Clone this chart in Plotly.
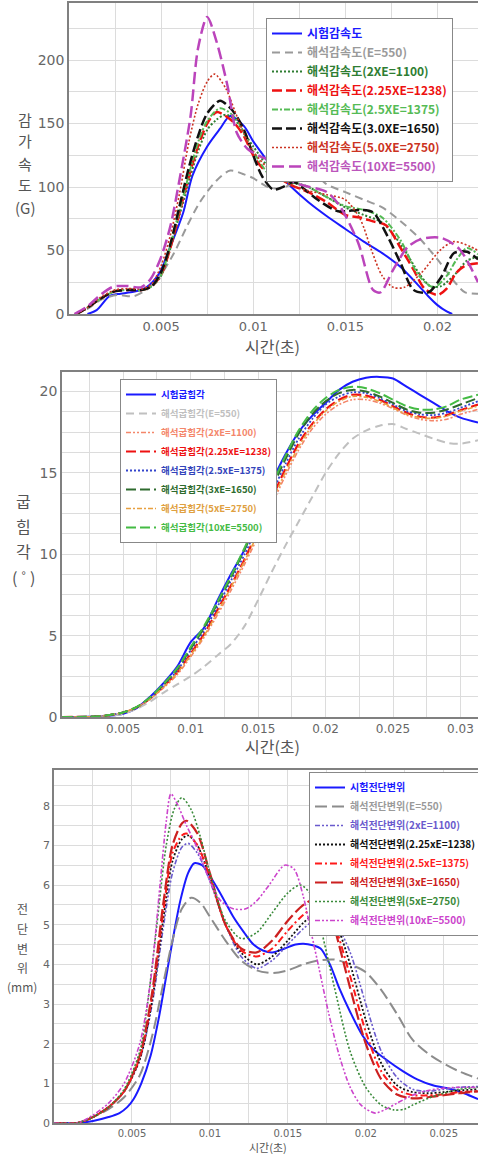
import plotly.graph_objects as go

# ---------------- Panel 1 : 감가속도 (G) ----------------
P1_NAMES = ["시험감속도", "해석감속도(E=550)", "해석감속도(2XE=1100)", "해석감속도(2.25XE=1238)",
            "해석감속도(2.5XE=1375)", "해석감속도(3.0XE=1650)", "해석감속도(5.0XE=2750)",
            "해석감속도(10XE=5500)"]
P1_T = [
    [1.0, 1.5, 2.2, 2.8, 3.5, 4.2, 4.9, 5.5, 6.2, 6.7, 7.5, 8.2, 8.75, 9.5, 10.0, 10.5, 11.0, 12.0, 13.0, 14.0, 15.0, 16.0, 17.0, 18.0, 19.0, 19.5, 20.0, 20.5, 20.8],
    [0.3, 1.0, 1.7, 2.6, 3.5, 4.2, 4.9, 5.7, 6.4, 7.1, 8.0, 8.75, 9.5, 10.0, 10.8, 11.5, 12.3, 12.9, 13.5, 14.0, 15.0, 16.0, 17.0, 18.0, 19.0, 20.0, 21.0, 21.5, 22.2],
    [0.4, 1.0, 1.7, 2.5, 3.2, 4.0, 4.5, 5.0, 6.0, 7.0, 7.5, 8.0, 8.5, 9.0, 10.0, 11.0, 12.0, 13.0, 14.0, 15.0, 16.0, 17.0, 18.0, 19.0, 19.6, 20.2, 21.0, 21.6, 22.2],
    [0.4, 1.0, 1.7, 2.5, 3.2, 4.0, 4.5, 5.0, 5.5, 6.0, 6.5, 7.0, 7.5, 8.0, 8.5, 9.0, 9.5, 10.0, 10.5, 11.3, 12.0, 13.0, 14.0, 15.0, 15.8, 16.5, 17.2, 18.0, 18.7, 19.3, 20.0, 20.5, 21.0, 21.5, 22.2],
    [0.4, 1.0, 1.7, 2.5, 3.2, 4.0, 4.5, 5.0, 6.0, 7.0, 7.5, 8.2, 9.0, 10.0, 11.0, 12.0, 13.0, 14.0, 15.0, 16.0, 17.0, 18.0, 19.0, 19.8, 20.5, 21.0, 21.6, 22.2],
    [0.4, 1.0, 1.7, 2.5, 3.2, 4.0, 4.5, 5.0, 5.5, 6.0, 6.5, 7.0, 7.5, 8.2, 8.7, 9.0, 9.5, 10.0, 10.5, 11.1, 11.6, 12.2, 12.8, 13.5, 14.6, 15.8, 16.5, 17.3, 18.0, 18.7, 19.5, 20.2, 20.9, 21.6, 22.2],
    [0.4, 1.0, 1.7, 2.5, 3.2, 4.0, 4.5, 5.0, 5.5, 6.0, 6.5, 7.0, 7.5, 7.9, 8.5, 9.0, 9.5, 10.0, 11.0, 12.0, 13.0, 14.0, 15.0, 15.8, 16.4, 17.0, 17.6, 18.2, 19.1, 20.2, 20.9, 21.8, 22.2],
    [0.3, 1.0, 1.7, 2.4, 3.2, 3.9, 4.4, 4.95, 5.5, 6.0, 6.6, 7.0, 7.5, 8.0, 8.6, 9.1, 9.7, 10.4, 11.1, 12.2, 14.0, 14.7, 15.7, 16.5, 16.9, 17.6, 18.4, 19.1, 20.2, 21.2, 22.2],
]
P1_V = [
    [0, 3, 14, 16, 17.5, 21, 32, 53, 80, 109, 132, 146, 156, 148, 136, 126, 116, 101, 88, 77, 67, 57, 48, 37, 22, 14, 7, 2, 0],
    [0, 4, 11, 15, 14, 19, 29, 48, 69, 88, 105, 113, 110, 107, 100, 99, 104, 110, 108, 102, 96, 90, 84, 73, 60, 43, 24, 17, 16],
    [0, 5, 12, 18, 19, 19, 22, 30, 78, 128, 145, 153, 157, 153, 132, 113, 105, 100, 92, 84, 78, 72, 55, 32, 22, 22, 32, 42, 45],
    [0, 5, 12, 18, 19, 19, 22, 31, 52, 80, 108, 132, 150, 159, 156, 150, 140, 125, 115, 108, 102, 96, 88, 78, 76, 73, 70, 52, 35, 20, 15, 20, 32, 38, 40],
    [0, 5, 12, 18, 19, 19, 22, 31, 82, 135, 152, 162, 155, 128, 108, 104, 100, 92, 85, 82, 76, 58, 30, 21, 30, 42, 52, 47],
    [0, 5, 12, 18, 19, 19, 22, 33, 55, 85, 115, 140, 158, 168, 163, 158, 145, 125, 108, 98, 100, 104, 98, 90, 81, 82, 80, 61, 40, 19, 17, 29, 48, 49, 43],
    [0, 5, 13, 19, 20, 20, 24, 38, 62, 95, 135, 165, 183, 189, 178, 160, 142, 128, 112, 102, 97, 94, 90, 75, 51, 30, 21, 21, 32, 51, 57, 53, 50],
    [0, 6, 15, 21.5, 22, 21, 27, 43, 69, 106, 156, 209, 234, 215, 180, 143, 130, 124, 120, 104, 96, 85, 56, 19, 17, 35, 53, 59, 60, 51, 25],
]
P1_COLORS = ["#1a1aff", "#9a9a9a", "#2e7d32", "#ee1111", "#55bb55", "#111111", "#cc3322", "#bb44bb"]
P1_TXT = ["#1a1aff", "#9a9a9a", "#2e7d32", "#ee1111", "#55bb55", "#111111", "#cc3322", "#bb55bb"]
P1_DASH = ["solid", "8px,5px", "2px,2px", "10px,4px", "6px,2px,2px,2px", "10px,4px", "2px,2px", "12px,5px"]
P1_W = [2, 2, 2, 2.5, 2, 2.5, 1.6, 2.5]

# ---------------- Panel 2 : 굽힘각 (°) ----------------
P2_NAMES = ["시험굽힘각", "해석굽힘각(E=550)", "해석굽힘각(2xE=1100)", "해석굽힘각(2.25xE=1238)",
            "해석굽힘각(2.5xE=1375)", "해석굽힘각(3xE=1650)", "해석굽힘각(5xE=2750)", "해석굽힘각(10xE=5500)"]
P2_T = [0.5, 3, 4, 5, 6, 7, 8, 9, 10, 11, 12, 13, 14, 15, 16, 17, 18, 19, 20, 21, 22, 23, 24, 25, 26, 27, 28, 29, 30, 31.3]
P2_V = [
    [0, 0.03, 0.08, 0.2, 0.55, 1.25, 2.1, 3.1, 4.6, 5.5, 7.2, 8.8, 10.3, 12.4, 14.4, 16.1, 17.5, 18.5, 19.3, 20.1, 20.6, 20.85, 20.9, 20.8, 20.3, 19.8, 19.3, 18.8, 18.4, 18.1],
    [0, 0.02, 0.08, 0.2, 0.5, 0.95, 1.5, 2.0, 2.5, 3.1, 3.8, 4.5, 5.6, 7.2, 8.9, 10.5, 12.0, 13.5, 15.0, 16.2, 17.1, 17.6, 17.9, 18.0, 17.7, 17.4, 17.1, 16.85, 16.8, 17.0],
    [0, 0.03, 0.12, 0.28, 0.6, 1.1, 1.8, 2.6, 3.7, 4.9, 6.3, 7.8, 9.4, 11.1, 13.0, 14.8, 16.4, 17.7, 18.6, 19.2, 19.5, 19.5, 19.3, 18.95, 18.55, 18.3, 18.2, 18.3, 18.6, 18.9],
    [0, 0.03, 0.12, 0.28, 0.6, 1.15, 1.9, 2.75, 3.9, 5.1, 6.6, 8.1, 9.7, 11.5, 13.4, 15.2, 16.8, 18.0, 18.9, 19.5, 19.8, 19.75, 19.5, 19.1, 18.7, 18.45, 18.4, 18.55, 18.85, 19.2],
    [0, 0.03, 0.12, 0.28, 0.6, 1.15, 1.95, 2.85, 4.1, 5.3, 6.8, 8.4, 10.0, 11.8, 13.7, 15.5, 17.1, 18.3, 19.2, 19.7, 19.95, 19.9, 19.6, 19.2, 18.8, 18.6, 18.55, 18.7, 19.0, 19.4],
    [0, 0.03, 0.12, 0.28, 0.6, 1.2, 2.0, 2.95, 4.2, 5.5, 7.0, 8.6, 10.3, 12.1, 14.0, 15.8, 17.4, 18.6, 19.4, 19.9, 20.1, 20.0, 19.7, 19.3, 18.9, 18.7, 18.7, 18.9, 19.2, 19.6],
    [0, 0.03, 0.12, 0.28, 0.6, 1.12, 1.85, 2.7, 3.8, 5.0, 6.45, 8.0, 9.6, 11.3, 13.2, 15.0, 16.6, 17.9, 18.8, 19.4, 19.7, 19.65, 19.4, 19.0, 18.6, 18.4, 18.35, 18.5, 18.8, 19.1],
    [0, 0.03, 0.12, 0.28, 0.62, 1.22, 2.05, 3.0, 4.3, 5.6, 7.1, 8.7, 10.4, 12.2, 14.2, 16.0, 17.6, 18.8, 19.6, 20.1, 20.3, 20.2, 19.9, 19.5, 19.1, 18.9, 18.9, 19.1, 19.5, 19.8],
]
P2_COLORS = ["#1a1aff", "#c0c0c0", "#f4866a", "#ee1111", "#3344cc", "#2e6b2e", "#e8a040", "#44bb44"]
P2_TXT = ["#1a1aff", "#c0c0c0", "#f4866a", "#ee1111", "#3344bb", "#2e6b2e", "#e0a040", "#44bb44"]
P2_DASH = ["solid", "8px,5px", "5px,2px,2px,2px,2px,2px", "10px,4px", "2px,2px", "10px,4px", "5px,2px,2px,2px", "10px,4px"]
P2_W = [2, 2, 1.6, 2.2, 1.8, 2, 1.6, 2]

# ---------------- Panel 3 : 전단변위 (mm) ----------------
P3_NAMES = ["시험전단변위", "해석전단변위(E=550)", "해석전단변위(2xE=1100)", "해석전단변위(2.25xE=1238)",
            "해석전단변위(2.5xE=1375)", "해석전단변위(3xE=1650)", "해석전단변위(5xE=2750)", "해석전단변위(10xE=5500)"]
P3_T = [
    [0, 1.5, 2.5, 3.5, 4.2, 4.7, 5.1, 5.6, 6.2, 6.7, 7.2, 7.7, 8.1, 8.6, 9.0, 9.5, 10.2, 10.8, 11.5, 12.2, 12.8, 13.4, 14.0, 14.8, 15.5, 16.0, 16.6, 17.1, 17.7, 18.3, 19.0, 19.8, 20.5, 21.3, 22.4, 23.3, 24.3, 25.5, 26.3, 27.2],
    [0, 1.5, 2.5, 3.5, 4.5, 5.5, 6.3, 7.0, 7.6, 8.2, 8.8, 9.4, 10, 11, 12, 13, 14, 15, 16, 17, 18, 19, 20, 21, 22, 23, 24, 25, 26, 27.2],
    [0, 1.5, 2.5, 3.5, 4.5, 5.5, 6.3, 7.0, 7.6, 8.2, 8.6, 9.2, 10, 11, 12, 13, 14, 15, 16, 17, 17.5, 18, 19, 20, 21, 22, 23, 24, 25, 26, 27.2],
    [0, 1.5, 2.5, 3.5, 4.5, 5.5, 6.3, 7.0, 7.6, 8.2, 8.6, 9.2, 10, 11, 12, 13, 14, 15, 16, 17, 17.3, 18, 19, 20, 21, 22, 23, 24, 25, 26, 27.2],
    [0, 1.5, 2.5, 3.5, 4.5, 5.5, 6.3, 7.0, 7.6, 8.2, 8.5, 9.2, 10, 11, 12, 13, 14, 15, 16, 17, 17.5, 18, 19, 20, 21, 22, 23, 24, 25, 26, 27.2],
    [0, 1.5, 2.5, 3.5, 4.5, 5.5, 6.3, 7.0, 7.6, 8.2, 8.5, 9.2, 10, 11, 12, 13, 14, 15, 16, 16.8, 17.5, 18, 19, 20, 21, 22, 23, 24, 25, 26, 27.2],
    [0, 1.5, 2.5, 3.5, 4.5, 5.5, 6.0, 6.6, 7.2, 7.7, 8.2, 8.8, 9.4, 10, 11, 12, 13, 14, 15, 15.8, 16.5, 17, 18, 19, 20, 21, 21.8, 22.5, 23, 24, 25, 26, 27.2],
    [0, 1.5, 2.5, 3.5, 4.5, 5.5, 6.2, 6.8, 7.2, 7.5, 7.9, 8.5, 9.0, 9.5, 10.0, 10.7, 11.5, 12.3, 13.0, 13.8, 14.8, 15.4, 16.0, 16.5, 17.0, 17.6, 18.3, 19.0, 19.7, 20.6, 21.3, 22.0, 23.0, 24.0, 25.0, 26.0, 27.2],
]
P3_V = [
    [0, 0, 0.05, 0.15, 0.25, 0.4, 0.6, 1.0, 1.7, 2.6, 3.7, 4.8, 5.6, 6.3, 6.55, 6.5, 6.1, 5.7, 5.2, 4.8, 4.5, 4.35, 4.3, 4.4, 4.5, 4.52, 4.48, 4.4, 4.0, 3.4, 2.8, 2.2, 1.85, 1.6, 1.3, 1.1, 0.95, 0.85, 0.75, 0.6],
    [0, 0, 0.15, 0.35, 0.65, 1.2, 2.2, 3.5, 4.6, 5.4, 5.68, 5.55, 5.2, 4.6, 4.1, 3.85, 3.78, 3.85, 4.0, 4.1, 4.12, 4.0, 3.8, 3.35, 2.75, 2.1, 1.75, 1.5, 1.3, 1.12],
    [0, 0, 0.15, 0.4, 0.8, 1.6, 3.0, 4.9, 6.3, 6.95, 7.05, 6.8, 6.1, 5.0, 4.2, 3.9, 4.1, 4.5, 4.9, 5.2, 5.25, 5.1, 4.3, 3.0, 1.8, 1.15, 0.85, 0.8, 0.85, 0.9, 0.92],
    [0, 0, 0.15, 0.4, 0.8, 1.6, 3.1, 5.1, 6.6, 7.15, 7.25, 7.0, 6.2, 5.0, 4.3, 4.0, 4.2, 4.6, 5.05, 5.35, 5.4, 5.1, 4.0, 2.6, 1.5, 0.95, 0.78, 0.75, 0.78, 0.82, 0.85],
    [0, 0, 0.15, 0.4, 0.8, 1.65, 3.2, 5.3, 6.8, 7.25, 7.3, 7.0, 6.2, 5.0, 4.35, 4.2, 4.4, 4.85, 5.25, 5.5, 5.4, 5.0, 3.7, 2.3, 1.3, 0.85, 0.7, 0.7, 0.72, 0.78, 0.8],
    [0, 0, 0.15, 0.4, 0.8, 1.7, 3.3, 5.5, 7.0, 7.55, 7.62, 7.3, 6.3, 5.0, 4.4, 4.3, 4.6, 5.1, 5.5, 5.65, 5.45, 4.9, 3.4, 2.0, 1.1, 0.72, 0.62, 0.65, 0.7, 0.75, 0.8],
    [0, 0, 0.15, 0.4, 0.85, 1.8, 3.0, 5.0, 7.0, 7.9, 8.2, 7.9, 7.2, 6.3, 5.1, 4.65, 4.8, 5.3, 5.8, 6.0, 5.75, 5.1, 3.4, 1.8, 0.9, 0.45, 0.33, 0.35, 0.45, 0.62, 0.75, 0.85, 0.9],
    [0, 0, 0.2, 0.5, 1.0, 2.0, 3.6, 6.0, 7.6, 8.3, 8.05, 7.5, 7.1, 6.6, 6.1, 5.6, 5.4, 5.4, 5.6, 6.0, 6.5, 6.4, 5.7, 4.8, 3.9, 2.8, 1.7, 0.9, 0.45, 0.25, 0.35, 0.5, 0.7, 0.82, 0.88, 0.9, 0.9],
]
P3_COLORS = ["#1a1aff", "#8c8c8c", "#6a5acd", "#111111", "#ff1a1a", "#cc2020", "#3a8a3a", "#cc44cc"]
P3_TXT = ["#1a1aff", "#9a9a9a", "#6a5acd", "#111111", "#ff1a1a", "#cc2020", "#3a8a3a", "#cc44cc"]
P3_DASH = ["solid", "12px,5px", "5px,2px,2px,2px,2px,2px", "2px,2px", "7px,3px,2px,3px", "12px,4px", "2px,2px", "5px,2px,2px,2px,2px,2px"]
P3_W = [2, 2, 1.6, 1.8, 2, 2.2, 1.6, 1.6]

X1_TICKS = [0.005, 0.01, 0.015, 0.02]
X2_TICKS = [0.005, 0.01, 0.015, 0.02, 0.025, 0.03]
X3_TICKS = [0.005, 0.01, 0.015, 0.02, 0.025]

KFONT = "Noto Sans CJK KR"
W, H = 478, 1154

fig = go.Figure()


def add_panel(names, times, vals, colors, txt, dashes, widths, xa, ya, legend):
    for i, name in enumerate(names):
        t = times[i] if isinstance(times[0], list) else times
        fig.add_trace(go.Scatter(
            x=[v / 1000 for v in t], y=vals[i], mode="lines", line_shape="spline",
            line=dict(color=colors[i], dash=dashes[i], width=widths[i], smoothing=0.8),
            name=f"<span style='color:{txt[i]}'><b>{name}</b></span>",
            xaxis=xa, yaxis=ya, legend=legend, showlegend=True))


add_panel(P1_NAMES, P1_T, P1_V, P1_COLORS, P1_TXT, P1_DASH, P1_W, "x", "y", "legend")
add_panel(P2_NAMES, P2_T, P2_V, P2_COLORS, P2_TXT, P2_DASH, P2_W, "x2", "y2", "legend2")
add_panel(P3_NAMES, P3_T, P3_V, P3_COLORS, P3_TXT, P3_DASH, P3_W, "x3", "y3", "legend3")

GRID = "#dcdcdc"
LINE = "#808080"


def ax(domain, rng, tickvals=None, dtick=None, minor=None, size=13, anchor=None):
    d = dict(domain=domain, range=rng, showgrid=True, gridcolor=GRID, gridwidth=1,
             showline=True, linecolor=LINE, linewidth=1.5, mirror=True, zeroline=False,
             ticks="", tickfont=dict(family="DejaVu Sans", size=size, color="#666"),
             anchor=anchor, fixedrange=True, automargin=False)
    if tickvals is not None:
        d["tickmode"] = "array"
        d["tickvals"] = tickvals
        d["ticktext"] = [f"{v:g}" for v in tickvals]
    if dtick is not None:
        d["dtick"] = dtick
        d["tick0"] = 0
    if minor is not None:
        d["minor"] = dict(dtick=minor, tick0=0, showgrid=True, gridcolor=GRID, ticks="")
    return d


def yd(top, bottom):
    return [1 - bottom / H, 1 - top / H]


fig.update_layout(
    width=W, height=H, margin=dict(l=0, r=0, t=0, b=0, autoexpand=False),
    paper_bgcolor="white", plot_bgcolor="white",
    font=dict(family=KFONT, color="#444"),
    xaxis=ax([69 / W, 1.0], [0, 0.0222], tickvals=X1_TICKS, minor=0.0025, size=13, anchor="y"),
    yaxis=ax(yd(3, 314), [0, 245], dtick=50, minor=25, size=14, anchor="x"),
    xaxis2=ax([62 / W, 1.0], [0.00046, 0.0313], tickvals=X2_TICKS, minor=0.0025, size=12, anchor="y2"),
    yaxis2=ax(yd(372, 717), [0, 21.2], dtick=5, minor=1.25, size=14, anchor="x2"),
    xaxis3=ax([54 / W, 1.0], [0, 0.0272], tickvals=X3_TICKS, minor=0.0025, size=10, anchor="y3"),
    yaxis3=ax(yd(770, 1123), [0, 8.9], dtick=1, minor=0.5, size=11, anchor="x3"),
    legend=dict(x=266 / W, y=1 - 18 / H, xanchor="left", yanchor="top", bgcolor="white",
                bordercolor="#888", borderwidth=1, font=dict(family=KFONT, size=12),
                itemwidth=30, tracegroupgap=0),
    legend2=dict(x=120 / W, y=1 - 379 / H, xanchor="left", yanchor="top", bgcolor="white",
                 bordercolor="#888", borderwidth=1, font=dict(family=KFONT, size=9.5),
                 itemwidth=30, tracegroupgap=0),
    legend3=dict(x=309 / W, y=1 - 772 / H, xanchor="left", yanchor="top", bgcolor="white",
                 bordercolor="#888", borderwidth=1, font=dict(family=KFONT, size=10),
                 itemwidth=30, tracegroupgap=0),
)

# axis titles (vertical Korean labels, one glyph per line)
TITLES = [
    (["감", "가", "속", "도", "(G)"], 25, [119, 141, 163, 185, 207], 15),
    (["굽", "힘", "각", "( ˚ )"], 23, [501, 526, 551, 577], 16),
    (["전", "단", "변", "위", "(mm)"], 22, [908, 928, 948, 967, 986], 12),
]
for chars, xp, ys, size in TITLES:
    for ch, yp in zip(chars, ys):
        fig.add_annotation(text=ch, x=xp / W, y=1 - yp / H, xref="paper", yref="paper",
                           showarrow=False, xanchor="center", yanchor="middle",
                           font=dict(family=KFONT, size=size, color="#555"))

XTITLES = [(272, 346, 16), (272, 746, 16), (268, 1147, 11)]
for xp, yp, size in XTITLES:
    fig.add_annotation(text="시간(초)", x=xp / W, y=1 - yp / H, xref="paper", yref="paper",
                       showarrow=False, xanchor="center", yanchor="middle",
                       font=dict(family=KFONT, size=size, color="#555"))

fig.write_html("out.html", config={"displayModeBar": False},
               post_script="document.body.style.margin='0';document.body.style.overflow='hidden';")
